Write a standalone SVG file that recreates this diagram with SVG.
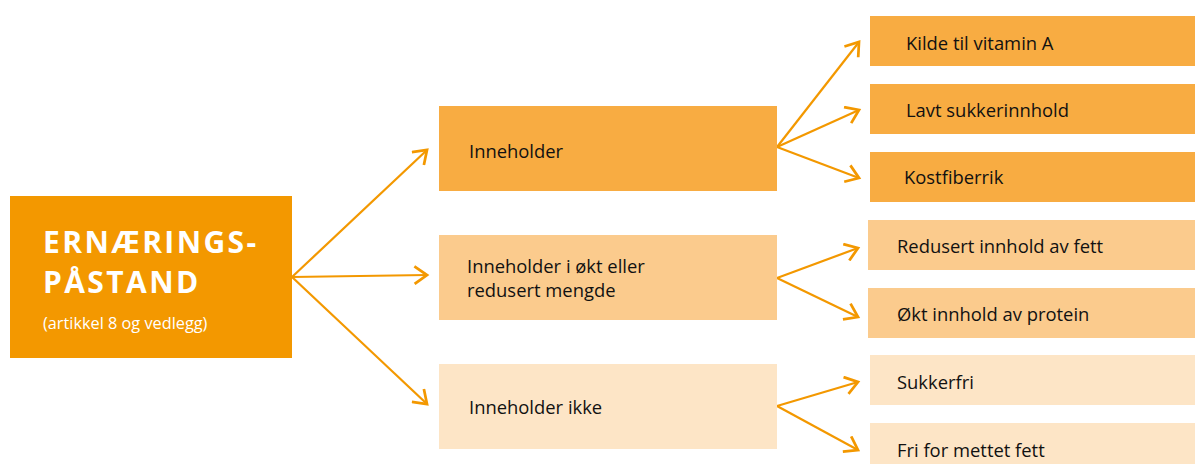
<svg xmlns="http://www.w3.org/2000/svg" width="1195" height="464" viewBox="0 0 1195 464">
  <defs>
    <style>
      .main { fill: #F39800; }
      .l1 { fill: #F8AC42; }
      .l2 { fill: #FBCB8D; }
      .l3 { fill: #FDE5C6; }
      .lbl { font-family: "Open Sans", "Liberation Sans", sans-serif; font-size: 18.4px; fill: #111111; }
      .title { font-family: "Open Sans", "Liberation Sans", sans-serif; font-size: 30px; font-weight: bold; fill: #FFFFFF; letter-spacing: 2.4px; }
      .sub { font-family: "Open Sans", "Liberation Sans", sans-serif; font-size: 16.3px; fill: #FFFFFF; }
      .conn { stroke: #F39800; stroke-width: 2.2; fill: none; marker-end: url(#arrow); }
    </style>
    <marker id="arrow" markerUnits="userSpaceOnUse" markerWidth="20" markerHeight="20" viewBox="-12 -8 14 16" refX="0" refY="0" orient="auto">
      <path d="M-10,-7 L0,0 L-10,7" fill="none" stroke="#F39800" stroke-width="2.2"/>
    </marker>
  </defs>

  <!-- connectors -->
  <g id="connectors">
    <line class="conn" x1="292" y1="277" x2="427" y2="150"/>
    <line class="conn" x1="292" y1="277" x2="427" y2="275"/>
    <line class="conn" x1="292" y1="277" x2="427" y2="404"/>
    <line class="conn" x1="777" y1="147" x2="859" y2="42"/>
    <line class="conn" x1="777" y1="147" x2="859" y2="110"/>
    <line class="conn" x1="777" y1="147" x2="859" y2="178"/>
    <line class="conn" x1="777" y1="278" x2="858" y2="248"/>
    <line class="conn" x1="777" y1="278" x2="858" y2="317"/>
    <line class="conn" x1="777" y1="406" x2="858" y2="382"/>
    <line class="conn" x1="777" y1="406" x2="858" y2="450"/>
  </g>

  <!-- root -->
  <g id="ernaeringspastand">
    <rect class="main" x="10" y="196" width="282" height="162"/>
    <text class="title" x="43" y="253">ERNÆRINGS-</text>
    <text class="title" x="43" y="293">PÅSTAND</text>
    <text class="sub" x="43" y="329">(artikkel 8 og vedlegg)</text>
  </g>

  <!-- middle level -->
  <g id="inneholder">
    <rect class="l1" x="439" y="106" width="338" height="85"/>
    <text class="lbl" x="469" y="158">Inneholder</text>
  </g>
  <g id="okt-redusert">
    <rect class="l2" x="439" y="235" width="338" height="85"/>
    <text class="lbl" x="467" y="273">Inneholder i økt eller</text>
    <text class="lbl" x="467" y="297">redusert mengde</text>
  </g>
  <g id="inneholder-ikke">
    <rect class="l3" x="439" y="364" width="338" height="85"/>
    <text class="lbl" x="469" y="414">Inneholder ikke</text>
  </g>

  <!-- leaves -->
  <g id="kilde-vitamin-a">
    <rect class="l1" x="870" y="16" width="325" height="50"/>
    <text class="lbl" x="906" y="50">Kilde til vitamin A</text>
  </g>
  <g id="lavt-sukker">
    <rect class="l1" x="870" y="84" width="325" height="50"/>
    <text class="lbl" x="906" y="117">Lavt sukkerinnhold</text>
  </g>
  <g id="kostfiberrik">
    <rect class="l1" x="870" y="152" width="325" height="50"/>
    <text class="lbl" x="904" y="184">Kostfiberrik</text>
  </g>
  <g id="redusert-fett">
    <rect class="l2" x="868" y="220" width="327" height="50"/>
    <text class="lbl" x="897" y="253">Redusert innhold av fett</text>
  </g>
  <g id="okt-protein">
    <rect class="l2" x="868" y="288" width="327" height="50"/>
    <text class="lbl" x="897" y="321">Økt innhold av protein</text>
  </g>
  <g id="sukkerfri">
    <rect class="l3" x="870" y="355" width="325" height="50"/>
    <text class="lbl" x="897" y="389">Sukkerfri</text>
  </g>
  <g id="fri-mettet-fett">
    <rect class="l3" x="870" y="423" width="325" height="50"/>
    <text class="lbl" x="897" y="457">Fri for mettet fett</text>
  </g>
</svg>
